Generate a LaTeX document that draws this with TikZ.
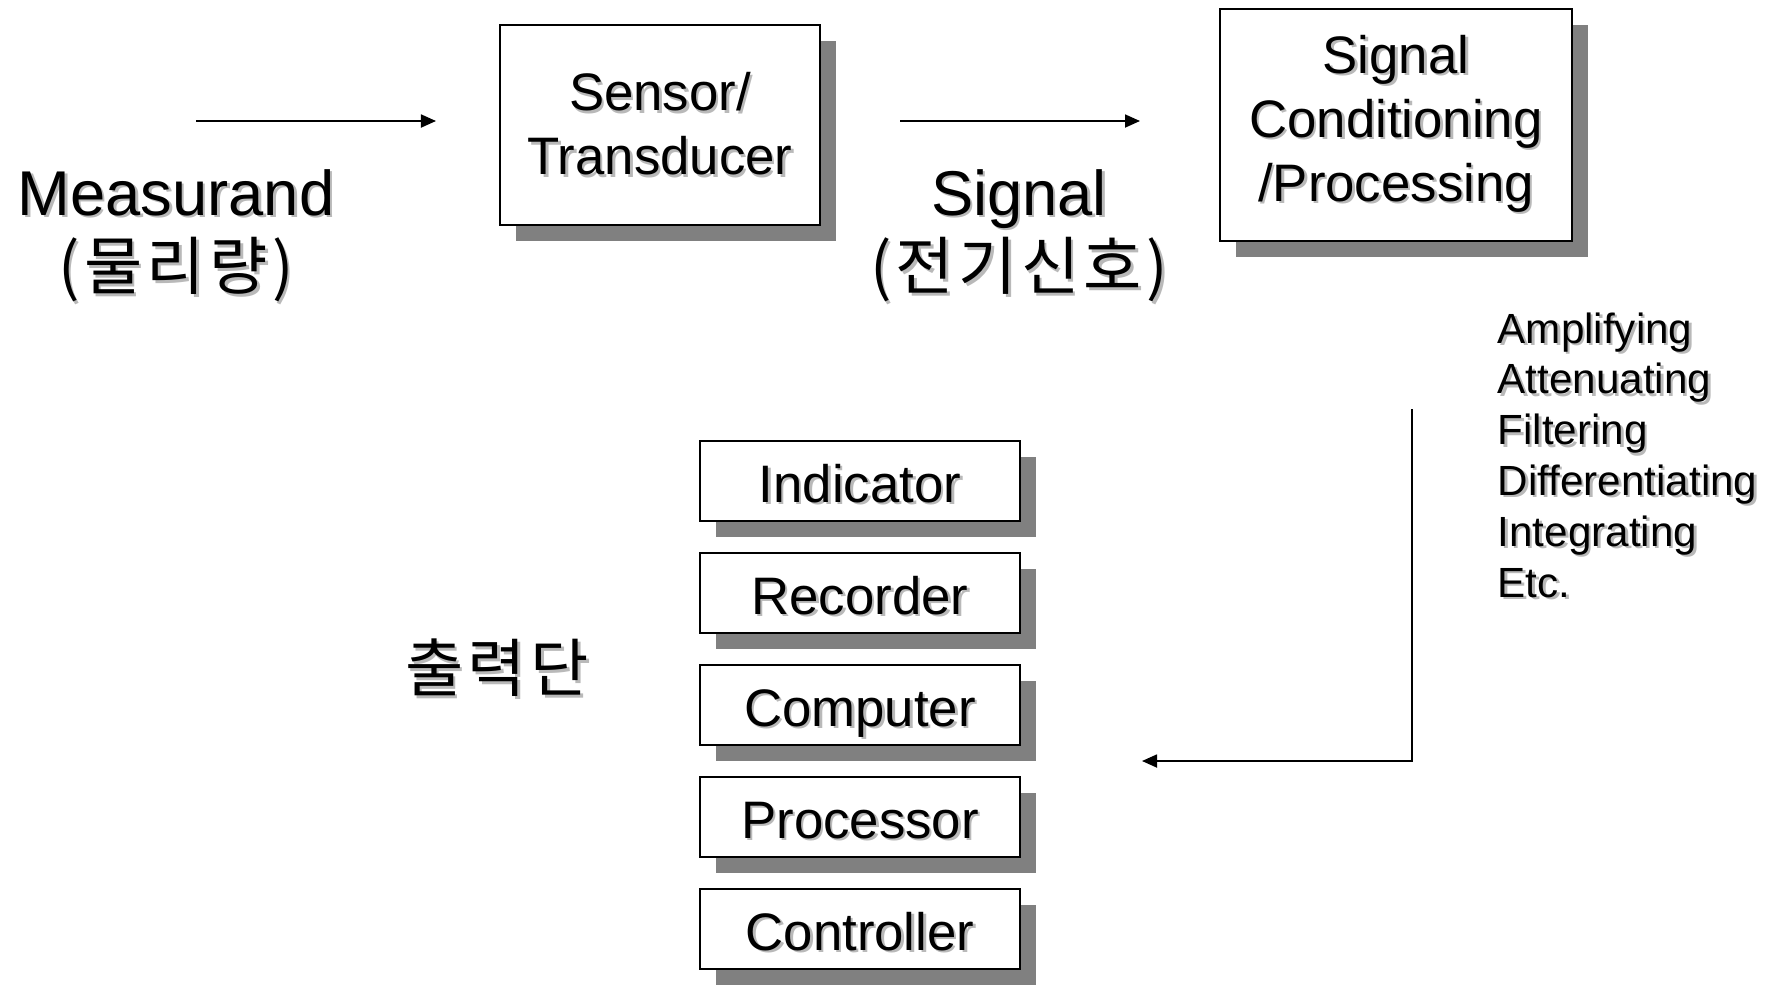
\documentclass[tikz,border=0pt]{standalone}
\usepackage{fontspec}
\setmainfont{Liberation Sans}
\newfontfamily\krfont[LetterSpace=7]{Noto Sans CJK KR}
\usetikzlibrary{arrows.meta,shadows}

% text with a light drop shadow
\newcommand{\shtext}[1]{\rlap{\kern0.7pt\raisebox{-0.7pt}{\color{gray!55}#1}}#1}

\tikzset{
  blockbox/.style={draw=black, line width=0.6pt, fill=white, inner sep=0pt,
    align=center, font=\fontsize{15}{18.2}\selectfont,
    drop shadow={shadow xshift=0.16cm, shadow yshift=-0.16cm, fill=gray, opacity=1}},
  outbox/.style={blockbox, minimum width=3.2cm, minimum height=0.8cm,
    text height=12.2pt, text depth=0pt},
  bigtext/.style={inner sep=0pt, font=\fontsize{18}{22}\selectfont},
  listtext/.style={inner sep=0pt, anchor=base west, font=\fontsize{12}{14.5}\selectfont},
  flowarrow/.style={line width=0.5pt, -{Triangle[length=0.15cm,width=0.13cm]}}
}

\begin{document}
\begin{tikzpicture}[x=0.01cm, y=-0.01cm]
    \useasboundingbox (0,0) rectangle (1773,984);

    % --- Input ---
    \node[bigtext, anchor=base] (meas) at (176,215) {\shtext{Measurand}};
    \node[bigtext] (measkr) at (176,271) {\krfont\shtext{(물리량)}};
    \coordinate (in0) at (196,121);
    \coordinate (in1) at (436,121);
    \draw[flowarrow] (in0) -- (in1);

    % --- Sensor ---
    \node[blockbox, minimum width=3.2cm, minimum height=2cm] (sensor) at (660,125) {\shtext{Sensor/}\\\shtext{Transducer}};

    % --- Signal ---
    \node[bigtext, anchor=base] (sig) at (1019,215) {\shtext{Signal}};
    \node[bigtext] (sigkr) at (1019,271) {\krfont\shtext{(전기신호)}};
    \coordinate (s0) at (900,121);
    \coordinate (s1) at (1140,121);
    \draw[flowarrow] (s0) -- (s1);

    % --- Conditioning ---
    \node[blockbox, minimum width=3.52cm, minimum height=2.32cm] (cond) at (1396,125) {\shtext{Signal}\\\shtext{Conditioning}\\\shtext{/Processing}};
    \foreach \i / \val in {0/Amplifying,1/Attenuating,2/Filtering,3/Differentiating,4/Integrating,5/Etc.}{
        \pgfmathsetmacro{\ybase}{343+50.8*\i}
        \node[listtext] (op\i) at (1497,\ybase) {\shtext{\val}};
    }
    \coordinate (r0) at (1412,409);
    \coordinate (r1) at (1412,761);
    \coordinate (r2) at (1142,761);
    \draw[flowarrow] (r0) -- (r1) -- (r2);

    % --- Output ---
    \node[bigtext] (outkr) at (497,669) {\krfont\shtext{출력단}};
    \foreach \i / \val in {0/Indicator,1/Recorder,2/Computer,3/Processor,4/Controller}{
        \pgfmathsetmacro{\ymid}{481+112*\i}
        \node[outbox] (out\i) at (860,\ymid) {\shtext{\val}};
    }
\end{tikzpicture}
\end{document}
